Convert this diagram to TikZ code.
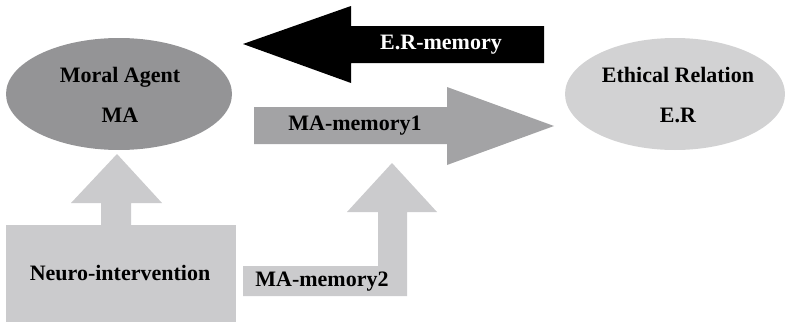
\documentclass[tikz,border=0pt]{standalone}
\usepackage{fontspec}
\setmainfont{Liberation Serif}
\usepackage{xcolor}
\definecolor{agt}{RGB}{148, 148, 150}
\definecolor{mem}{RGB}{163, 163, 165}
\definecolor{lgt}{RGB}{203, 203, 205}
\definecolor{rel}{RGB}{210, 210, 211}

\begin{document}
\begin{tikzpicture}[x=1pt, y=-1pt,
    lbl/.style={font=\fontsize{22}{40}\selectfont\bfseries, align=center, inner sep=0pt}]
      \useasboundingbox (0, 0) rectangle (785, 324);
      % ellipses
      \fill[color=agt] (119, 94) ellipse (113 and 56);
      \fill[color=rel] (675, 94) ellipse (110 and 56);
      \node[lbl] (ma) at (120, 95) {Moral Agent\\MA};
      \node[lbl] (er) at (678, 95) {Ethical Relation\\E.R};
      % neuro box
      \fill[color=lgt] (6, 225) rectangle (236, 322);
      \node[lbl] (neuro) at (120, 273) {Neuro-intervention};
      % arrows
      \fill[color=black] (243, 44) -- (351, 6) -- (351, 26) -- (544, 26) -- (544, 63) -- (351, 63) -- (351, 83) -- cycle;
      \node[lbl, text=white] (ermem) at (441, 45) {E.R-memory};
      \fill[color=mem] (254, 107) -- (447, 107) -- (447, 87) -- (554, 126) -- (447, 165) -- (447, 144) -- (254, 144) -- cycle;
      \node[lbl] (mamem1) at (355, 126) {MA-memory1};
      \fill[color=lgt] (117, 154) -- (162, 203) -- (131, 203) -- (131, 225) -- (101, 225) -- (101, 203) -- (71, 203) -- cycle;
      \fill[color=lgt] (243, 266) -- (378, 266) -- (378, 212) -- (347, 212) -- (392, 163) -- (437, 212) -- (407, 212) -- (407, 296) -- (243, 296) -- cycle;
      \node[lbl] (mamem2) at (322, 282) {MA-memory2};
    \end{tikzpicture}
\end{document}
